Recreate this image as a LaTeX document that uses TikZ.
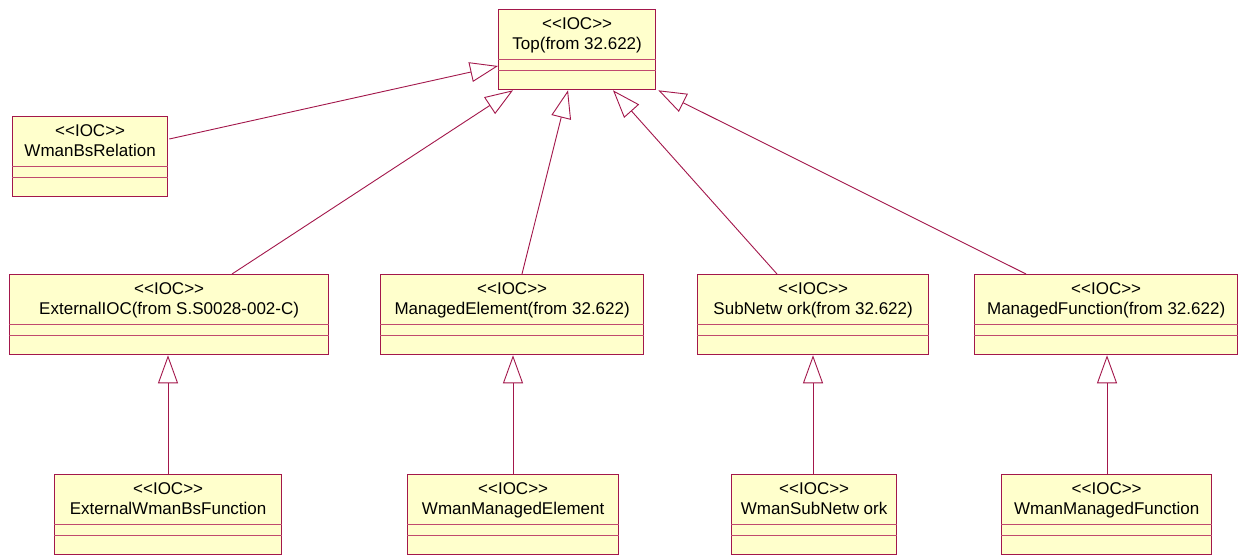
\documentclass[tikz,border=0pt]{standalone}
\usepackage{fontspec}
\setmainfont{Liberation Sans}
\usetikzlibrary{arrows.meta,calc}
\definecolor{umlline}{HTML}{A3174B}
\definecolor{umlsep}{HTML}{C04A6E}
\definecolor{umlfill}{HTML}{FFFFCC}
\tikzset{
  cls/.style={draw=umlline, fill=umlfill, line width=1.3pt, rectangle, inner sep=0pt, anchor=north west, minimum height=80pt},
  sep/.style={draw=umlsep, line width=1pt},
  lbl/.style={font=\fontsize{17}{19}\selectfont, inner sep=0pt, anchor=center, text height=12.5pt, text depth=3.5pt},
  gen/.style={draw=umlline, line width=0.9pt, -{Triangle[open, length=28pt, width=20pt, line width=0.9pt]}},
}
\newcommand\umlbox[5]{% name, x, y, width, title
  \node[cls, minimum width=#4pt] (#1) at (#2,#3) {};
  \draw[sep] ([yshift=-50.5pt]#1.north west) -- ([yshift=-50.5pt]#1.north east);
  \draw[sep] ([yshift=-61pt]#1.north west) -- ([yshift=-61pt]#1.north east);
  \node[lbl] (#1-st) at ([yshift=-15.5pt]#1.north) {<\kern0pt<IOC>\kern0pt>};
  \node[lbl] (#1-nm) at ([yshift=-36pt]#1.north) {#5};
}
\begin{document}
\begin{tikzpicture}[x=1pt, y=-1pt]
\useasboundingbox (0,0) rectangle (1238,554);
\fill[white] (0,0) rectangle (1238,554);

\umlbox{top}{498}{9}{157}{Top(from 32.622)}
\umlbox{wbr}{12}{116}{155}{WmanBsRelation}
\umlbox{ext}{9}{274}{319}{ExternalIOC(from S.S0028-002-C)}
\umlbox{me}{380}{274}{263}{ManagedElement(from 32.622)}
\umlbox{sub}{697}{274}{231}{SubNetw ork(from 32.622)}
\umlbox{mf}{974}{274}{263}{ManagedFunction(from 32.622)}
\umlbox{ewbf}{54}{474}{227}{ExternalWmanBsFunction}
\umlbox{wme}{407}{474}{211}{WmanManagedElement}
\umlbox{wsub}{731}{474}{165}{WmanSubNetw ork}
\umlbox{wmf}{1001}{474}{210}{WmanManagedFunction}

% connector end points on the Top class
\coordinate (t-wbr) at ($(top.north west)+(0,57)$);
\coordinate (t-ext) at ($(top.south west)+(15,0)$);
\coordinate (t-me)  at ($(top.south west)+(70,0)$);
\coordinate (t-sub) at ($(top.south west)+(115,0)$);
\coordinate (t-mf)  at ($(top.south east)+(2,0)$);
% start points on the children
\coordinate (s-wbr) at ($(wbr.north east)+(1,23)$);
\coordinate (s-ext) at ($(ext.north west)+(223,0)$);
\coordinate (s-me)  at ($(me.north west)+(142,0)$);
\coordinate (s-sub) at ($(sub.north west)+(80,0)$);
\coordinate (s-mf)  at ($(mf.north west)+(52,0)$);

\draw[gen] (s-wbr) -- (t-wbr);
\draw[gen] (s-ext) -- (t-ext);
\draw[gen] (s-me) -- (t-me);
\draw[gen] (s-sub) -- (t-sub);
\draw[gen] (s-mf) -- (t-mf);

\draw[gen] (ewbf.north -| 168,0) -- (ext.south -| 168,0);
\draw[gen] (wme.north -| 513,0) -- (me.south -| 513,0);
\draw[gen] (wsub.north -| 813,0) -- (sub.south -| 813,0);
\draw[gen] (wmf.north -| 1107,0) -- (mf.south -| 1107,0);
\end{tikzpicture}
\end{document}
